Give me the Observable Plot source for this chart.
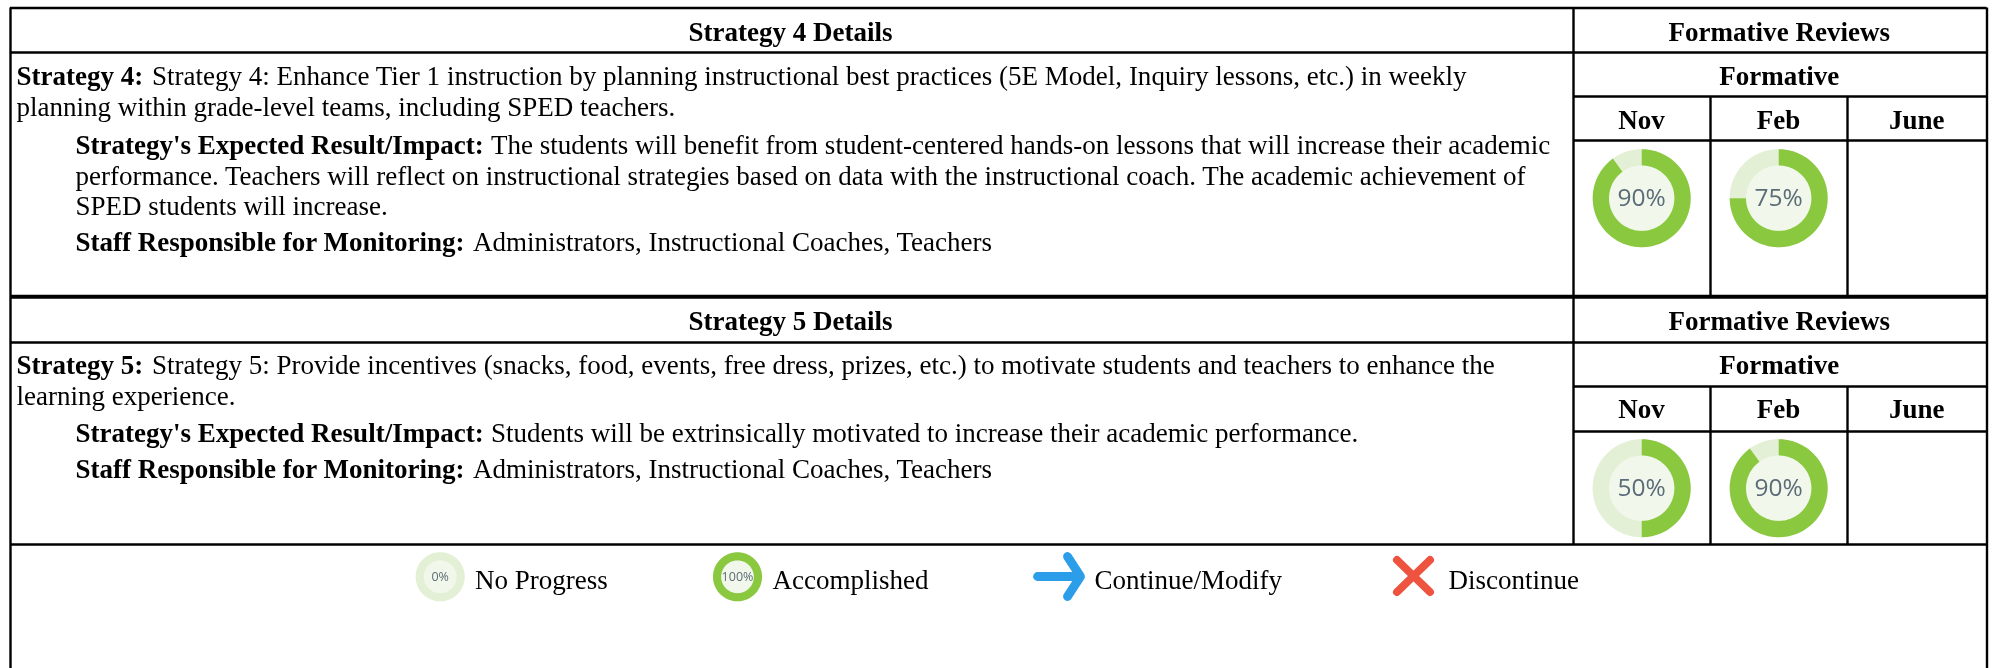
<!DOCTYPE html>
<html><head><meta charset="utf-8">
<style>html,body{margin:0;padding:0;background:#fff}svg{display:block;filter:blur(0.35px)}</style>
<script src="https://cdn.jsdelivr.net/npm/d3@7"></script>
<script src="https://cdn.jsdelivr.net/npm/@observablehq/plot@0.6"></script>
</head><body><script>
// ---- chart values ----
const reviewMonths = ["Nov", "Feb", "June"];
const strategy4Progress = [90, 75];
const strategy5Progress = [50, 90];
const legendLabels = ["No Progress", "Accomplished", "Continue/Modify", "Discontinue"];
const legendProgress = [0, 100];
const headerTitles = ["Strategy 4 Details", "Strategy 5 Details"];
const reviewTitle = "Formative Reviews";
const formativeTitle = "Formative";
const strategy4Bold = ["Strategy 4:", "Strategy's Expected Result/Impact:", "Staff Responsible for Monitoring:"];
const strategy4Plain = [
  "Strategy 4: Enhance Tier 1 instruction by planning instructional best practices (5E Model, Inquiry lessons, etc.) in weekly",
  "planning within grade-level teams, including SPED teachers.",
  "The students will benefit from student-centered hands-on lessons that will increase their academic",
  "performance. Teachers will reflect on instructional strategies based on data with the instructional coach. The academic achievement of",
  "SPED students will increase.",
  "Administrators, Instructional Coaches, Teachers"
];
const strategy5Bold = ["Strategy 5:", "Strategy's Expected Result/Impact:", "Staff Responsible for Monitoring:"];
const strategy5Plain = [
  "Strategy 5: Provide incentives (snacks, food, events, free dress, prizes, etc.) to motivate students and teachers to enhance the",
  "learning experience.",
  "Students will be extrinsically motivated to increase their academic performance.",
  "Administrators, Instructional Coaches, Teachers"
];

// ---- page layout (pixels on identity scales) ----
const W = 1995, H = 668;
const L = 10, R = 1986.5, SPLIT = 1573, COL2 = 1710, COL3 = 1847;
const T = [{top:7.5, r1:52, r2:96, r3:140, bot:296}, {top:297, r1:342, r2:386, r3:431, bot:544}];
const monthCenters = [(SPLIT+COL2)/2, (COL2+COL3)/2, (COL3+R)/2];
const SERIF = "Liberation Serif, Times New Roman, serif";
const FS = 27.03;
const GREEN = "#8AC83F", PALE = "#E3F0D5", CORE = "#F1F8EB", LABEL = "#5C6B78";

function ringSymbol(rx, ry, inner, from, to) {
  return {draw(ctx, size) {
    const n = Math.max(2, Math.ceil((to - from) / 2));
    for (let i = 0; i <= n; i++) {
      const a = (from + (to - from) * i / n - 90) * Math.PI / 180;
      const px = rx * Math.cos(a), py = ry * Math.sin(a);
      if (i) ctx.lineTo(px, py); else ctx.moveTo(px, py);
    }
    if (inner > 0) {
      for (let i = n; i >= 0; i--) {
        const a = (from + (to - from) * i / n - 90) * Math.PI / 180;
        ctx.lineTo(rx * inner * Math.cos(a), ry * inner * Math.sin(a));
      }
    }
    ctx.closePath();
  }};
}
function donut(cx, cy, rx, ry, value, labelSize, labelWeight) {
  const d = [{cx, cy}];
  const sweep = value * 3.6;
  const opts = (fill, symbol) => ({x:"cx", y:"cy", r:1, fill, stroke:"none", symbol});
  return [
    Plot.dot(d, opts(CORE, ringSymbol(rx, ry, 0, 0, 360))),
    value < 100 ? Plot.dot(d, opts(PALE, ringSymbol(rx, ry, 0.667, sweep, 360))) : null,
    value > 0 ? Plot.dot(d, opts(GREEN, ringSymbol(rx, ry, 0.667, 0, sweep))) : null,
    Plot.text([value + "%"], {x:cx, y:cy, text:d=>d, fill:LABEL, fontFamily:"Open Sans, Noto Sans, sans-serif",
      fontSize:labelSize, fontWeight:labelWeight||400, textAnchor:"middle", lineAnchor:"middle"})
  ];
}
const txt = (s, x, y, bold, anchor) => Plot.text([s], {x, y, text:d=>d, fontFamily:SERIF, fontSize:FS,
  fontWeight:bold?700:400, fill:"#000", textAnchor:anchor||"start", lineAnchor:"bottom"});

const hLines = [], vLines = [];
T.forEach(t => {
  hLines.push({y:t.top, a:L, b:R}, {y:t.r1, a:L, b:R}, {y:t.r2, a:SPLIT, b:R}, {y:t.r3, a:SPLIT, b:R});
  vLines.push({x:SPLIT, a:t.top, b:t.bot}, {x:COL2, a:t.r2, b:t.bot}, {x:COL3, a:t.r2, b:t.bot});
});
hLines.push({y:295.5, a:L, b:R}, {y:544, a:L, b:R});
vLines.push({x:L, a:7.5, b:668}, {x:R, a:7.5, b:668});

const arrowSymbol = {draw(c){ c.moveTo(-22,0); c.lineTo(21,0); c.moveTo(8,-20); c.lineTo(21,0); c.lineTo(8,20); }};
const crossSymbol = {draw(c){ c.moveTo(-16.5,-16); c.lineTo(16.5,16); c.moveTo(16.5,-16); c.lineTo(-16.5,16); }};

const marks = [];
marks.push(Plot.ruleY(hLines, {y:"y", x1:"a", x2:"b", stroke:"#000", strokeWidth:2.4}));
marks.push(Plot.ruleX(vLines, {x:"x", y1:"a", y2:"b", stroke:"#000", strokeWidth:2.4}));

[[T[0],0],[T[1],289]].forEach(([t,off],k) => {
  marks.push(txt(headerTitles[k], (L+SPLIT)/2-1.5, 40+off, true, "middle"));
  marks.push(txt(reviewTitle, (SPLIT+R)/2-1, 40+off, true, "middle"));
  marks.push(txt(formativeTitle, (SPLIT+R)/2-1, 84+off, true, "middle"));
  reviewMonths.forEach((m,i)=>marks.push(txt(m, monthCenters[i]-0.5, 128+off, true, "middle")));
});
// strategy 4 body
marks.push(txt(strategy4Bold[0], 16, 84, true), txt(strategy4Plain[0], 151.5, 84));
marks.push(txt(strategy4Plain[1], 16, 115.5));
marks.push(txt(strategy4Bold[1], 75, 153, true), txt(strategy4Plain[2], 490.5, 153));
marks.push(txt(strategy4Plain[3], 75, 184), txt(strategy4Plain[4], 75, 214));
marks.push(txt(strategy4Bold[2], 75, 250, true), txt(strategy4Plain[5], 472.5, 250));
// strategy 5 body
marks.push(txt(strategy5Bold[0], 16, 373.5, true), txt(strategy5Plain[0], 151.5, 373.5));
marks.push(txt(strategy5Plain[1], 16, 404.5));
marks.push(txt(strategy5Bold[1], 75, 441.5, true), txt(strategy5Plain[2], 490.5, 441.5));
marks.push(txt(strategy5Bold[2], 75, 477.5, true), txt(strategy5Plain[3], 472.5, 477.5));
// donuts
strategy4Progress.forEach((v,i)=>marks.push(...donut(monthCenters[i]-0.3, 197.7, 49, 49, v, 24.5)));
strategy5Progress.forEach((v,i)=>marks.push(...donut(monthCenters[i]-0.3, 487.7, 49, 49, v, 24.5)));
// legend
marks.push(...donut(439.7, 576.3, 24.5, 24.5, legendProgress[0], 12.5));
marks.push(...donut(737, 576.3, 24.5, 24.5, legendProgress[1], 12.5));
marks.push(Plot.dot([{x:1059,y:576}], {x:"x", y:"y", r:1, fill:"none", stroke:"#2B9DE9", strokeWidth:8.8, strokeLinecap:"round", strokeLinejoin:"round", symbol:arrowSymbol}));
marks.push(Plot.dot([{x:1413,y:575.5}], {x:"x", y:"y", r:1, fill:"none", stroke:"#EE5340", strokeWidth:8, strokeLinecap:"round", symbol:crossSymbol}));
[474.5,772,1094,1448].forEach((x,i)=>marks.push(txt(legendLabels[i], x, 588)));

const chart = Plot.plot({
  width:W, height:H, margin:0, style:{background:"#fff", overflow:"visible"},
  x:{type:"linear", domain:[0,W], range:[0,W], axis:null},
  y:{type:"linear", domain:[0,H], range:[0,H], axis:null},
  marks: marks.filter(Boolean)
});
document.body.appendChild(chart);
</script></body></html>
